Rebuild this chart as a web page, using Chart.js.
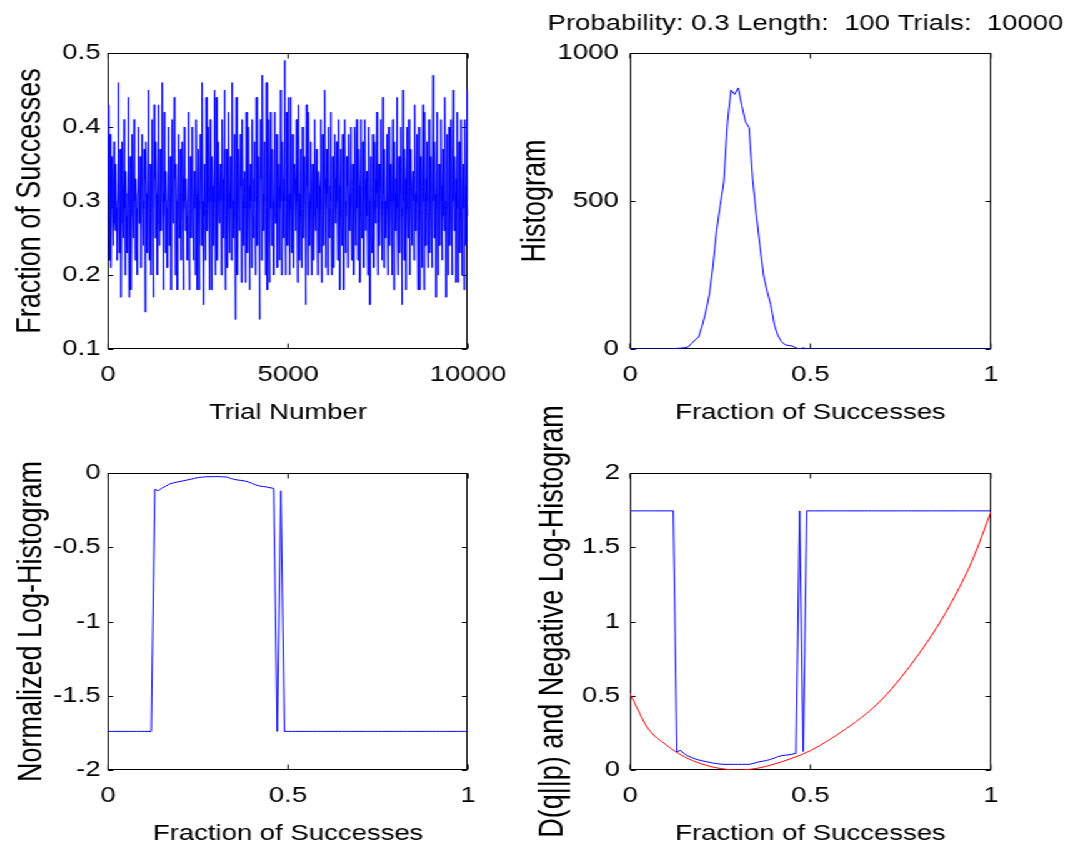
<!DOCTYPE html>
<html>
<head>
<meta charset="utf-8">
<script src="https://cdn.jsdelivr.net/npm/chart.js@4.4.1/dist/chart.umd.min.js"></script>
<style>
html, body { margin:0; padding:0; background:#fff; overflow:hidden; width:1068px; height:844px; }
/* the figure is laid out narrow and stretched sideways, like the exported MATLAB figure */
#figure { position:absolute; left:0; top:0; width:854.4px; height:860px; transform:scaleX(1.25); transform-origin:0 0; }
.panel { position:absolute; }
#tl { left:0; top:0; width:420px; height:440px; }
#tr { left:390px; top:0; width:464.4px; height:440px; }
#bl { left:0; top:390px; width:420px; height:470px; }
#br { left:390px; top:390px; width:464.4px; height:470px; }
</style>
</head>
<body>
<div id="figure">
  <div class="panel" id="tl"><canvas id="cTL"></canvas></div>
  <div class="panel" id="tr"><canvas id="cTR"></canvas></div>
  <div class="panel" id="bl"><canvas id="cBL"></canvas></div>
  <div class="panel" id="br"><canvas id="cBR"></canvas></div>
</div>
<script>
// ---- data ----
var trialLength = 100
var trialCount = 10000

// successes out of 100, sampled along the 10000 trials
var successCounts = [
43,31,22,28,39,33,21,29,36,30,24,32,38,27,26,34,35,29,22,30,46,33,23,28,37,31,17,27,38,32,25,30,41,29,20,33,34,28,23,31,
44,30,17,29,36,32,18,28,39,31,25,33,41,30,22,27,33,29,20,31,40,34,27,30,36,28,21,32,39,30,24,29,37,33,15,27,38,31,23,30,
45,32,22,29,35,30,20,31,41,28,17,30,43,33,25,29,38,31,20,27,43,32,24,30,37,29,26,33,46,31,18,28,42,30,23,32,34,29,21,30,
40,31,24,30,36,28,18,32,41,29,27,31,44,33,20,28,35,30,18,29,39,32,25,30,37,27,22,31,38,33,18,29,40,30,26,32,33,28,22,30,
42,30,18,29,36,31,25,33,40,28,22,30,34,29,20,32,41,31,18,27,37,30,18,29,39,33,24,31,46,30,16,28,35,32,22,29,44,31,26,30,
40,29,18,31,41,30,18,28,36,32,24,30,45,33,20,29,44,31,22,30,38,28,27,32,35,30,20,29,41,33,25,31,45,30,18,28,37,32,21,29,
42,31,23,30,36,29,22,32,46,30,25,28,39,31,14,29,44,33,20,30,37,29,26,31,39,32,19,28,41,30,24,33,34,29,19,31,42,30,23,29,
40,32,18,29,35,30,21,31,41,28,25,33,38,30,20,29,44,31,24,32,36,28,14,30,41,33,22,29,47,31,26,30,38,32,20,28,46,30,18,29,
41,30,19,31,42,29,24,32,37,30,20,28,42,33,27,30,39,29,21,31,35,32,22,29,45,30,20,28,38,31,25,33,49,30,20,29,42,32,24,30,
44,31,20,29,44,32,23,30,39,28,21,31,35,33,26,29,41,30,19,32,43,31,22,28,37,30,21,29,40,33,25,31,36,29,16,30,43,32,20,28,
42,30,24,31,38,29,20,32,35,30,22,28,41,31,26,33,37,29,20,30,34,32,23,29,41,31,19,28,39,30,24,32,45,33,21,29,37,31,20,30,
40,29,25,32,42,30,20,28,36,31,21,30,39,33,27,29,38,30,22,31,41,32,18,28,37,30,24,29,39,31,18,33,41,30,23,28,36,32,21,30,
39,31,26,29,40,30,22,32,35,28,20,30,40,31,24,33,41,29,22,30,37,32,19,28,41,30,25,31,38,29,21,32,41,33,26,30,34,28,20,31,
40,30,16,29,36,32,23,31,39,28,21,30,38,33,27,29,42,31,20,30,35,29,24,32,41,30,22,28,44,31,21,33,37,30,25,29,39,32,20,30,
40,31,24,30,35,29,20,32,41,30,18,28,38,31,26,33,44,29,20,30,36,32,23,31,40,29,16,28,45,30,22,31,37,33,18,29,40,30,25,32,
41,30,20,31,37,29,24,32,34,30,22,28,43,31,26,30,39,33,18,29,40,31,18,30,36,28,21,32,43,30,18,29,42,31,24,33,38,30,21,29,
41,32,23,30,36,29,21,31,47,30,25,28,38,31,17,29,42,33,20,30,35,29,24,31,41,32,22,30,37,28,26,31,44,30,17,29,39,33,20,30,
40,31,24,29,41,30,20,32,45,30,26,28,36,31,19,33,42,29,19,30,38,32,23,29,41,30,20,31,35,29,18,30,41,32,24,31,45,30,28
]

// histogram bins 0, 0.01, ... 1
var binFractions = Array.from({length: 101}, function (_, k) { return k / 100 })

var histCounts = [
0,0,0,0,0,0,0,0,0,0,0,0,0,
2,3,4,6,18,30,40,78,125,185,280,400,485,565,765,875,860,882,822,768,748,572,
455,350,250,195,150,82,45,25,14,12,10,4,0,4,0,
0,0,0,0,0,0,0,0,0,0,0,0,0,0,0,0,0,0,0,0,0,0,0,0,0,
0,0,0,0,0,0,0,0,0,0,0,0,0,0,0,0,0,0,0,0,0,0,0,0,0,0
]

var normLogHist = [
-1.74,-1.74,-1.74,-1.74,-1.74,-1.74,-1.74,-1.74,-1.74,-1.74,-1.74,-1.74,-1.74,
-0.11,-0.12,-0.10,-0.09,-0.075,-0.068,-0.062,-0.057,-0.052,-0.047,-0.042,-0.036,-0.031,
-0.028,-0.026,-0.025,-0.025,-0.024,-0.025,-0.026,-0.027,-0.036,-0.043,-0.047,-0.050,
-0.054,-0.060,-0.070,-0.080,-0.087,-0.091,-0.094,-0.099,-0.104,-1.74,-0.12,-1.74,
-1.74,-1.74,-1.74,-1.74,-1.74,-1.74,-1.74,-1.74,-1.74,-1.74,-1.74,-1.74,-1.74,-1.74,-1.74,-1.74,-1.74,
-1.74,-1.74,-1.74,-1.74,-1.74,-1.74,-1.74,-1.74,-1.74,-1.74,-1.74,-1.74,-1.74,-1.74,-1.74,-1.74,-1.74,
-1.74,-1.74,-1.74,-1.74,-1.74,-1.74,-1.74,-1.74,-1.74,-1.74,-1.74,-1.74,-1.74,-1.74,-1.74,-1.74,-1.74
]

var negLogHist = [
1.745,1.745,1.745,1.745,1.745,1.745,1.745,1.745,1.745,1.745,1.745,1.745,1.745,
0.122,0.133,0.110,0.095,0.085,0.075,0.068,0.062,0.057,0.052,0.047,0.043,0.040,
0.038,0.038,0.038,0.038,0.038,0.038,0.038,0.038,0.043,0.050,0.056,0.060,
0.065,0.072,0.080,0.090,0.096,0.100,0.102,0.107,0.112,1.745,0.125,1.745,
1.745,1.745,1.745,1.745,1.745,1.745,1.745,1.745,1.745,1.745,1.745,1.745,1.745,1.745,1.745,1.745,1.745,
1.745,1.745,1.745,1.745,1.745,1.745,1.745,1.745,1.745,1.745,1.745,1.745,1.745,1.745,1.745,1.745,1.745,
1.745,1.745,1.745,1.745,1.745,1.745,1.745,1.745,1.745,1.745,1.745,1.745,1.745,1.745,1.745,1.745,1.745
]

// D(q||p) in bits
var divergenceQ = [0,0.05,0.1,0.15,0.2,0.25,0.3,0.35,0.4,0.45,0.5,0.55,0.6,0.65,0.7,0.75,0.8,0.85,0.9,0.95,1]
var divergenceBits = [0.515,0.28,0.17,0.09,0.04,0.01,0,0.01,0.04,0.08,0.13,0.2,0.28,0.37,0.48,0.62,0.78,0.96,1.17,1.42,1.74]

var topTitle = 'Probability: 0.3 Length:  100 Trials:  10000'

// ---- look ----
var FAMILY = '"Liberation Sans", Arial, Helvetica, sans-serif'
Chart.defaults.color = '#000'
Chart.defaults.font.family = FAMILY
var tickFont = {family: FAMILY, size: 22}
var xTitleFont = {family: FAMILY, size: 22}
var yTitleFont = {family: FAMILY, size: 27}
var BLUE = '#0000ff'
var RED = '#ff0000'
var TICK_LEN = 5

function pts(xs, ys) {
  return ys.map(function (y, i) { return {x: xs[i], y: y} })
}

// box round the axes with inward ticks on all four sides
var matlabAxes = {
  id: 'matlabAxes',
  beforeDatasetsDraw: function (chart) {
    var ctx = chart.ctx, a = chart.chartArea, sx = chart.scales.x, sy = chart.scales.y
    var L = Math.round(a.left) + 0.5, R = Math.round(a.right) - 0.5
    var T = Math.round(a.top) + 0.5, B = Math.round(a.bottom) - 0.5
    ctx.save()
    ctx.strokeStyle = '#000'
    ctx.lineWidth = 1
    ctx.strokeRect(L, T, R - L, B - T)
    ctx.beginPath()
    sx.ticks.forEach(function (t) {
      var p = sx.getPixelForValue(t.value)
      ctx.moveTo(p, B); ctx.lineTo(p, B - TICK_LEN)
      ctx.moveTo(p, T); ctx.lineTo(p, T + TICK_LEN)
    })
    sy.ticks.forEach(function (t) {
      var p = Math.round(sy.getPixelForValue(t.value)) + 0.5
      ctx.moveTo(L, p); ctx.lineTo(L + TICK_LEN - 1, p)
      ctx.moveTo(R, p); ctx.lineTo(R - TICK_LEN + 1, p)
    })
    ctx.stroke()
    ctx.restore()
  }
}

// title over the top right axes, centred on them and free to run past their width
var figureTitle = {
  id: 'figureTitle',
  afterDraw: function (chart) {
    var ctx = chart.ctx, a = chart.chartArea
    ctx.save()
    ctx.font = '22px ' + FAMILY
    ctx.fillStyle = '#000'
    ctx.textAlign = 'center'
    ctx.textBaseline = 'middle'
    ctx.fillText(topTitle, (a.left + a.right) / 2 - 4, 24)
    ctx.restore()
  }
}

function xAxis(o) {
  return {
    type: 'linear', position: 'bottom', min: o.min, max: o.max,
    afterFit: function (s) { s.height = o.height; s.paddingLeft = 0; s.paddingRight = 0 },
    ticks: {stepSize: o.step, padding: 12.8, font: tickFont, maxRotation: 0, autoSkip: false,
            callback: function (v) { return String(v) }},
    grid: {display: false, drawTicks: false},
    border: {display: false},
    title: {display: true, text: o.title, font: xTitleFont, padding: {bottom: o.titlePad}}
  }
}

function yAxis(o) {
  return {
    type: 'linear', position: 'left', min: o.min, max: o.max,
    afterFit: function (s) { s.width = o.width; s.paddingTop = 0; s.paddingBottom = 0 },
    ticks: {stepSize: o.step, padding: o.tickPad, font: tickFont, autoSkip: false,
            callback: function (v) { return String(Math.round(v * 10) / 10) }},
    grid: {display: false, drawTicks: false},
    border: {display: false},
    title: {display: true, text: o.title, font: yTitleFont, padding: {top: o.titlePad}}
  }
}

function panel(id, datasets, padding, scales, extra) {
  return new Chart(document.getElementById(id), {
    type: 'line',
    data: {datasets: datasets},
    options: {
      animation: false,
      responsive: true,
      maintainAspectRatio: false,
      layout: {autoPadding: false, padding: padding},
      plugins: {legend: {display: false}, tooltip: {enabled: false}},
      elements: {point: {radius: 0}, line: {borderWidth: 1, tension: 0}},
      scales: scales
    },
    plugins: [matlabAxes].concat(extra || [])
  })
}

// top left: fraction of successes per trial
var trialStep = trialCount / (successCounts.length - 1)
panel('cTL', [{
  data: successCounts.map(function (k, i) { return {x: i * trialStep, y: k / trialLength} }),
  borderColor: BLUE
}], {top: 53, left: 0, right: 45.6, bottom: 0}, {
  x: xAxis({min: 0, max: trialCount, step: 5000, height: 91, title: 'Trial Number', titlePad: 14}),
  y: yAxis({min: 0.1, max: 0.5, step: 0.1, width: 86.4, tickPad: 6, title: 'Fraction of Successes', titlePad: 8.6})
})

// top right: histogram
panel('cTR', [{
  data: pts(binFractions, histCounts),
  borderColor: BLUE
}], {top: 53, left: 0, right: 61.6, bottom: 0}, {
  x: xAxis({min: 0, max: 1, step: 0.5, height: 91, title: 'Fraction of Successes', titlePad: 14}),
  y: yAxis({min: 0, max: 1000, step: 500, width: 114, tickPad: 9, title: 'Histogram', titlePad: 22.6})
}, [figureTitle])

// bottom left: normalized log-histogram
panel('cBL', [{
  data: pts(binFractions, normLogHist),
  borderColor: BLUE
}], {top: 83, left: 0, right: 45.6, bottom: 0}, {
  x: xAxis({min: 0, max: 1, step: 0.5, height: 90, title: 'Fraction of Successes', titlePad: 13}),
  y: yAxis({min: -2, max: 0, step: 0.5, width: 86.4, tickPad: 6, title: 'Normalized Log-Histogram', titlePad: 9.4})
})

// bottom right: divergence and negative log-histogram
panel('cBR', [{
  data: pts(binFractions, negLogHist),
  borderColor: BLUE
}, {
  data: pts(divergenceQ, divergenceBits),
  borderColor: RED,
  cubicInterpolationMode: 'monotone'
}], {top: 83, left: 0, right: 61.6, bottom: 0}, {
  x: xAxis({min: 0, max: 1, step: 0.5, height: 90, title: 'Fraction of Successes', titlePad: 13}),
  y: yAxis({min: 0, max: 2, step: 0.5, width: 114, tickPad: 8, title: 'D(q||p) and Negative Log-Histogram', titlePad: 36.2})
})
</script>
</body>
</html>
